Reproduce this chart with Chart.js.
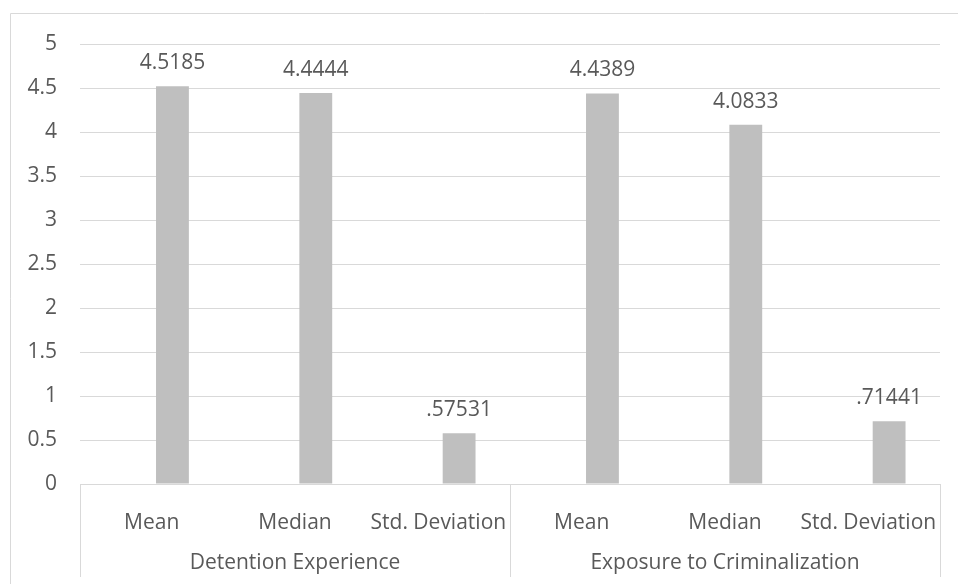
<!DOCTYPE html>
<html>
<head>
<meta charset="utf-8">
<script src="https://cdn.jsdelivr.net/npm/chart.js@4"></script>
<style>
  html, body { margin: 0; padding: 0; background: #fff; }
  #wrap { width: 958px; height: 584px; position: relative; }
</style>
</head>
<body>
<div id="wrap"><canvas id="chart" width="958" height="584"></canvas></div>
<script>
// categories (lower level) and groups (upper level)
const categories = ['Mean', 'Median', 'Std. Deviation', 'Mean', 'Median', 'Std. Deviation'];
const groups = ['Detention Experience', 'Exposure to Criminalization'];
const groupSize = [3, 3];
const values = [4.5185, 4.4444, 0.57531, 4.4389, 4.0833, 0.71441];
const valueLabels = ['4.5185', '4.4444', '.57531', '4.4389', '4.0833', '.71441'];
// empty first series (Excel leaves its slot, so the bars sit right of centre)
const blankSeries = [null, null, null, null, null, null];

const FONT = '"Open Sans", sans-serif';
const TEXT = '#595959';
const LINE = '#D9D9D9';

// frame, bar values, and the two-level category axis
const decor = {
  id: 'decor',
  beforeDraw(chart) {
    const ctx = chart.ctx;
    ctx.save();
    ctx.strokeStyle = LINE;
    ctx.lineWidth = 1;
    ctx.beginPath();
    ctx.moveTo(10.5, 584);
    ctx.lineTo(10.5, 13.5);
    ctx.lineTo(958, 13.5);
    ctx.stroke();
    ctx.restore();
  },
  afterDatasetsDraw(chart) {
    const ctx = chart.ctx;
    const area = chart.chartArea;
    const x = chart.scales.x;
    const meta = chart.getDatasetMeta(1);
    ctx.save();
    ctx.font = '21px ' + FONT;
    ctx.fillStyle = TEXT;
    ctx.textAlign = 'center';
    ctx.textBaseline = 'middle';

    // value labels
    meta.data.forEach((bar, i) => {
      ctx.fillText(valueLabels[i], bar.x, bar.y - 23);
    });

    // category labels
    categories.forEach((c, i) => {
      ctx.fillText(c, x.getPixelForValue(i), area.bottom + 39);
    });

    // group labels and separators
    const step = x.getPixelForValue(1) - x.getPixelForValue(0);
    let start = 0;
    ctx.strokeStyle = LINE;
    ctx.lineWidth = 1;
    const sep = px => {
      ctx.beginPath();
      ctx.moveTo(Math.round(px) + 0.5, area.bottom);
      ctx.lineTo(Math.round(px) + 0.5, area.bottom + 93);
      ctx.stroke();
    };
    sep(x.getPixelForValue(0) - step / 2);
    groups.forEach((g, gi) => {
      const end = start + groupSize[gi] - 1;
      const left = x.getPixelForValue(start) - step / 2;
      const right = x.getPixelForValue(end) + step / 2;
      ctx.fillText(g, (left + right) / 2, area.bottom + 79);
      sep(right);
      start = end + 1;
    });
    ctx.restore();
  }
};

new Chart(document.getElementById('chart'), {
  type: 'bar',
  data: {
    labels: categories,
    datasets: [
      { data: blankSeries, backgroundColor: '#BFBFBF' },
      { data: values, backgroundColor: '#BFBFBF' }
    ]
  },
  options: {
    responsive: false,
    animation: false,
    events: [],
    categoryPercentage: 0.58,
    barPercentage: 0.79,
    layout: { padding: { top: 44, right: 18, bottom: 92, left: 0 } },
    plugins: { legend: { display: false }, tooltip: { enabled: false } },
    scales: {
      x: {
        grid: { display: false },
        border: { display: false },
        ticks: { display: false }
      },
      y: {
        min: 0,
        max: 5,
        ticks: {
          stepSize: 0.5,
          padding: 23,
          color: TEXT,
          font: { family: FONT, size: 21 },
          callback: v => String(v)
        },
        grid: { color: LINE, lineWidth: 1, drawTicks: false },
        border: { display: false },
        afterFit(scale) { scale.width = 80; }
      }
    }
  },
  plugins: [decor]
});
</script>
</body>
</html>
